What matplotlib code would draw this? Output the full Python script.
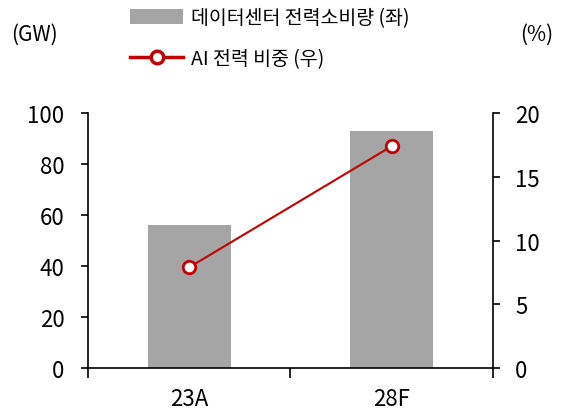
import numpy as np
import matplotlib
matplotlib.use("Agg")
import matplotlib.pyplot as plt
from matplotlib.patches import Patch
from matplotlib.lines import Line2D

plt.rcParams['font.family'] = ['Noto Sans CJK KR', 'DejaVu Sans']

categories = ["23A", "28F"]
dc_power = [56, 93]        # GW, left axis
ai_share = [7.9, 17.4]     # %, right axis

bar_color = "#A5A5A5"
line_color = "#C00000"

fig = plt.figure(figsize=(5.62, 4.14), dpi=100)
ax = fig.add_axes([0.1566, 0.1087, 0.7206, 0.6159])
ax2 = ax.twinx()

x = np.arange(len(categories))
ax.bar(x, dc_power, width=0.41, color=bar_color, zorder=2)
ax2.plot(x, ai_share, color=line_color, lw=1.5, marker='o', ms=9,
         mfc='white', mec=line_color, mew=2, zorder=3)

ax.set_xlim(-0.5, 1.5)
ax.set_ylim(0, 100)
ax2.set_ylim(0, 20)
ax.set_yticks(np.arange(0, 101, 20))
ax2.set_yticks(np.arange(0, 21, 5))

# boundary ticks on x, labels in the middle
ax.set_xticks([-0.5, 0.5, 1.5])
ax.set_xticklabels([])
ax.set_xticks(x, minor=True)
ax.set_xticklabels(categories, minor=True)
ax.tick_params(axis='x', which='major', length=7, width=1.2, direction='out')
ax.tick_params(axis='x', which='minor', length=0, pad=14, labelsize=16)

ax.tick_params(axis='y', length=5, width=1.2, pad=12, labelsize=16)
ax2.tick_params(axis='y', length=5, width=1.2, pad=11, labelsize=16)

for a in (ax, ax2):
    a.spines['top'].set_visible(False)
    for s in ('left', 'right', 'bottom'):
        a.spines[s].set_linewidth(1.2)
ax.spines['right'].set_visible(False)
ax2.spines['left'].set_visible(False)
ax2.spines['bottom'].set_visible(False)

fig.text(0.02, 0.915, "(GW)", fontsize=15, va='center', ha='left')
fig.text(0.985, 0.915, "(%)", fontsize=15, va='center', ha='right')

handles = [
    Patch(facecolor=bar_color, label="데이터센터 전력소비량 (좌)"),
    Line2D([0], [0], color=line_color, lw=2.5, marker='o', ms=9,
           mfc='white', mec=line_color, mew=2.5, label="AI 전력 비중 (우)"),
]
fig.legend(handles=handles, loc='upper left', bbox_to_anchor=(0.225, 0.99),
           frameon=False, fontsize=14, handlelength=2.7, handleheight=0.8,
           handletextpad=0.4, labelspacing=1.05, borderpad=0.2, borderaxespad=0)

fig.savefig("out.png", dpi=100)
